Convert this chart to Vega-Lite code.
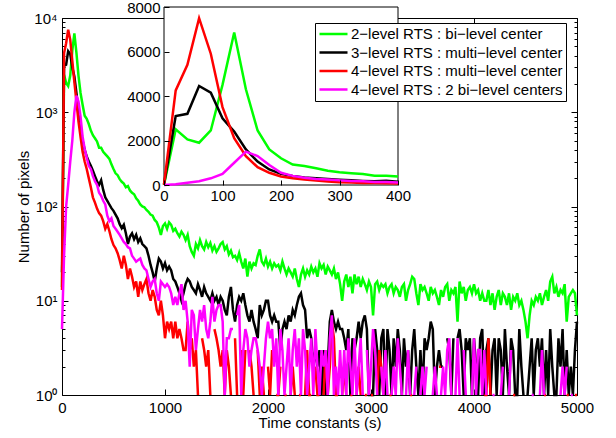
{
"$schema":"https://vega.github.io/schema/vega-lite/v6.json",
"width":515,"height":377,"autosize":"none",
"padding":{"left":62,"top":18,"right":39,"bottom":43},
"config":{"view":{"stroke":"black","strokeWidth":1},"font":"Liberation Sans",
"axis":{"labelFont":"Liberation Sans","labelFontSize":15,"labelColor":"black","titleFont":"Liberation Sans","titleFontSize":15,"titleFontWeight":"normal","titleColor":"black","tickColor":"black","grid":false,"domain":false,"labelOverlap":false,"labelFlush":false}},
"datasets":{"d":[
{"t":0,"g":14,"k":20,"r":13,"m":5},{"t":20,"g":2500,"k":3100,"r":4250,"m":30},{"t":40,"g":2050,"k":3200,"r":5400,"m":100},{"t":60,"g":1900,"k":4450,"r":7500,"m":170},{"t":80,"g":2450,"k":4150,"r":5900,"m":300},{"t":100,"g":4500,"k":3000,"r":3500,"m":500},{"t":120,"g":6850,"k":2400,"r":2100,"m":1000},{"t":140,"g":4300,"k":1600,"r":1300,"m":1500},{"t":160,"g":2450,"k":1050,"r":800,"m":1300},{"t":180,"g":1600,"k":700,"r":550,"m":900},
{"t":200,"g":1200,"k":500,"r":380,"m":550},{"t":220,"g":920,"k":400,"r":300,"m":410},{"t":240,"g":850,"k":340,"r":250,"m":330},{"t":260,"g":750,"k":300,"r":200,"m":270},{"t":280,"g":640,"k":270,"r":160,"m":250},{"t":300,"g":570,"k":240,"r":125,"m":210},{"t":320,"g":530,"k":210,"r":110,"m":185},{"t":340,"g":490,"k":185,"r":95,"m":170},{"t":360,"g":420,"k":170,"r":85,"m":140},{"t":380,"g":420,"k":190,"r":80,"m":130},
{"t":400,"g":380,"k":150,"r":70,"m":115},{"t":420,"g":360,"k":125,"r":58,"m":105},{"t":440,"g":340,"k":115,"r":65,"m":80},{"t":460,"g":320,"k":105,"r":55,"m":70},{"t":480,"g":280,"k":96,"r":45,"m":75},{"t":500,"g":250,"k":90,"r":39,"m":62},{"t":520,"g":225,"k":82,"r":36,"m":58},{"t":540,"g":215,"k":75,"r":32,"m":54},{"t":560,"g":195,"k":65,"r":27,"m":50},{"t":580,"g":183,"k":59,"r":22,"m":46},
{"t":600,"g":175,"k":64,"r":30,"m":42},{"t":620,"g":160,"k":52,"r":24,"m":40},{"t":640,"g":165,"k":40,"r":17,"m":37},{"t":660,"g":148,"k":48,"r":22,"m":36},{"t":680,"g":140,"k":52,"r":18,"m":30},{"t":700,"g":135,"k":45,"r":14,"m":28},{"t":720,"g":122,"k":50,"r":16,"m":26},{"t":740,"g":115,"k":42,"r":11,"m":27},{"t":760,"g":105,"k":46,"r":16,"m":28},{"t":780,"g":100,"k":40,"r":13,"m":24},
{"t":800,"g":98,"k":38,"r":15,"m":22},{"t":820,"g":92,"k":36,"r":17,"m":21},{"t":840,"g":88,"k":30,"r":12,"m":17},{"t":860,"g":82,"k":24,"r":10,"m":14},{"t":880,"g":80,"k":20,"r":13,"m":16},{"t":900,"g":72,"k":16,"r":11,"m":17},{"t":920,"g":68,"k":22,"r":8,"m":12},{"t":940,"g":60,"k":28,"r":7,"m":10},{"t":960,"g":50,"k":26,"r":10,"m":16},{"t":980,"g":62,"k":22,"r":7,"m":15},
{"t":1000,"g":66,"k":25,"r":4,"m":14},{"t":1020,"g":58,"k":21,"r":6,"m":15},{"t":1040,"g":68,"k":23,"r":5,"m":14},{"t":1060,"g":64,"k":21,"r":6,"m":12},{"t":1080,"g":55,"k":17,"r":4,"m":9},{"t":1100,"g":58,"k":16,"r":6,"m":11},{"t":1120,"g":52,"k":14,"r":4,"m":9},{"t":1140,"g":48,"k":12,"r":5,"m":12},{"t":1160,"g":54,"k":10,"r":4,"m":15},{"t":1180,"g":50,"k":12,"r":3,"m":8},
{"t":1200,"g":44,"k":15,"r":3,"m":10},{"t":1220,"g":50,"k":17,"r":6,"m":6},{"t":1240,"g":38,"k":16,"r":3,"m":2},{"t":1260,"g":33,"k":14,"r":4,"m":8},{"t":1280,"g":30,"k":13,"r":2,"m":7},{"t":1300,"g":40,"k":12,"r":3,"m":3},{"t":1320,"g":36,"k":15,"r":1,"m":5},{"t":1340,"g":44,"k":13,"r":null,"m":8},{"t":1360,"g":38,"k":11,"r":4,"m":6},{"t":1380,"g":35,"k":14,"r":3,"m":9},
{"t":1400,"g":42,"k":12,"r":2,"m":5},{"t":1420,"g":37,"k":11,"r":3,"m":4},{"t":1440,"g":41,"k":10,"r":1,"m":6},{"t":1460,"g":34,"k":12,"r":null,"m":11},{"t":1480,"g":38,"k":10,"r":5,"m":6},{"t":1500,"g":33,"k":11,"r":4,"m":8},{"t":1520,"g":36,"k":9,"r":3,"m":9},{"t":1540,"g":40,"k":11,"r":2,"m":9},{"t":1560,"g":42,"k":10,"r":3,"m":6},{"t":1580,"g":35,"k":8,"r":1,"m":1},
{"t":1600,"g":38,"k":7,"r":3,"m":4},{"t":1620,"g":31,"k":11,"r":2,"m":4},{"t":1640,"g":34,"k":14,"r":1,"m":5},{"t":1660,"g":29,"k":8,"r":null,"m":5},{"t":1680,"g":30,"k":6,"r":4,"m":null},{"t":1700,"g":27,"k":9,"r":1,"m":7},{"t":1720,"g":32,"k":11,"r":null,"m":9},{"t":1740,"g":26,"k":10,"r":3,"m":1},{"t":1760,"g":22,"k":12,"r":1,"m":3},{"t":1780,"g":28,"k":9,"r":3,"m":5},
{"t":1800,"g":18,"k":7,"r":null,"m":4},{"t":1820,"g":26,"k":6,"r":3,"m":2},{"t":1840,"g":22,"k":8,"r":2,"m":3},{"t":1860,"g":25,"k":6,"r":1,"m":4},{"t":1880,"g":24,"k":5,"r":null,"m":4},{"t":1900,"g":30,"k":4,"r":3,"m":3},{"t":1920,"g":35,"k":9,"r":1,"m":2},{"t":1940,"g":26,"k":7,"r":2,"m":1},{"t":1960,"g":24,"k":8,"r":1,"m":2},{"t":1980,"g":28,"k":10,"r":null,"m":4},
{"t":2000,"g":23,"k":10,"r":2,"m":6},{"t":2020,"g":26,"k":7,"r":1,"m":4},{"t":2040,"g":22,"k":6,"r":3,"m":5},{"t":2060,"g":25,"k":7,"r":null,"m":2},{"t":2080,"g":23,"k":6,"r":1,"m":4},{"t":2100,"g":24,"k":6,"r":1,"m":1},{"t":2120,"g":21,"k":3,"r":2,"m":5},{"t":2140,"g":26,"k":5,"r":null,"m":3},{"t":2160,"g":22,"k":6,"r":1,"m":1},{"t":2180,"g":19,"k":5,"r":1,"m":2},
{"t":2200,"g":22,"k":7,"r":null,"m":4},{"t":2220,"g":20,"k":6,"r":1,"m":1},{"t":2240,"g":18,"k":8,"r":2,"m":3},{"t":2260,"g":22,"k":7,"r":1,"m":5},{"t":2280,"g":17,"k":9,"r":null,"m":2},{"t":2300,"g":14,"k":11,"r":1,"m":4},{"t":2320,"g":19,"k":12,"r":1,"m":1},{"t":2340,"g":22,"k":9,"r":null,"m":5},{"t":2360,"g":18,"k":8,"r":1,"m":3},{"t":2380,"g":21,"k":4,"r":3,"m":1},
{"t":2400,"g":19,"k":5,"r":1,"m":2},{"t":2420,"g":23,"k":4,"r":1,"m":4},{"t":2440,"g":20,"k":2,"r":null,"m":1},{"t":2460,"g":22,"k":3,"r":2,"m":5},{"t":2480,"g":18,"k":2,"r":1,"m":2},{"t":2500,"g":25,"k":3,"r":1,"m":1},{"t":2520,"g":22,"k":1,"r":null,"m":3},{"t":2540,"g":24,"k":3,"r":1,"m":2},{"t":2560,"g":19,"k":1,"r":3,"m":3},{"t":2580,"g":23,"k":2,"r":1,"m":1},
{"t":2600,"g":21,"k":6,"r":2,"m":4},{"t":2620,"g":19,"k":8,"r":6,"m":7},{"t":2640,"g":22,"k":6,"r":4,"m":1},{"t":2660,"g":17,"k":5,"r":1,"m":2},{"t":2680,"g":20,"k":6,"r":1,"m":1},{"t":2700,"g":15,"k":5,"r":null,"m":3},{"t":2720,"g":10,"k":5,"r":1,"m":1},{"t":2740,"g":16,"k":4,"r":2,"m":3},{"t":2760,"g":19,"k":3,"r":1,"m":1},{"t":2780,"g":14,"k":5,"r":null,"m":4},
{"t":2800,"g":18,"k":1,"r":1,"m":2},{"t":2820,"g":12,"k":4,"r":1,"m":1},{"t":2840,"g":19,"k":3,"r":null,"m":4},{"t":2860,"g":15,"k":4,"r":1,"m":1},{"t":2880,"g":18,"k":6,"r":2,"m":2},{"t":2900,"g":14,"k":4,"r":1,"m":4},{"t":2920,"g":17,"k":6,"r":null,"m":1},{"t":2940,"g":15,"k":7,"r":1,"m":null},{"t":2960,"g":13,"k":5,"r":1,"m":3},{"t":2980,"g":16,"k":1,"r":null,"m":1},
{"t":3000,"g":14,"k":1,"r":1,"m":2},{"t":3020,"g":7,"k":1,"r":1,"m":5},{"t":3040,"g":15,"k":5,"r":null,"m":3},{"t":3060,"g":16,"k":3,"r":1,"m":1},{"t":3080,"g":13,"k":1,"r":3,"m":null},{"t":3100,"g":15,"k":4,"r":2,"m":2},{"t":3120,"g":14,"k":5,"r":1,"m":1},{"t":3140,"g":15,"k":1,"r":null,"m":3},{"t":3160,"g":12,"k":5,"r":null,"m":1},{"t":3180,"g":14,"k":3,"r":1,"m":null},
{"t":3200,"g":15,"k":1,"r":1,"m":1},{"t":3220,"g":12,"k":4,"r":null,"m":2},{"t":3240,"g":14,"k":2,"r":null,"m":1},{"t":3260,"g":13,"k":5,"r":1,"m":4},{"t":3280,"g":11,"k":3,"r":null,"m":2},{"t":3300,"g":14,"k":1,"r":null,"m":1},{"t":3320,"g":15,"k":4,"r":2,"m":null},{"t":3340,"g":10,"k":2,"r":null,"m":1},{"t":3360,"g":13,"k":3,"r":null,"m":3},{"t":3380,"g":15,"k":1,"r":1,"m":1},
{"t":3400,"g":18,"k":3,"r":1,"m":null},{"t":3420,"g":17,"k":5,"r":null,"m":1},{"t":3440,"g":12,"k":2,"r":null,"m":2},{"t":3460,"g":9,"k":1,"r":1,"m":null},{"t":3480,"g":15,"k":3,"r":null,"m":1},{"t":3500,"g":13,"k":1,"r":null,"m":2},{"t":3520,"g":14,"k":4,"r":1,"m":1},{"t":3540,"g":12,"k":3,"r":null,"m":2},{"t":3560,"g":10,"k":4,"r":null,"m":null},{"t":3580,"g":14,"k":6,"r":null,"m":null},
{"t":3600,"g":12,"k":5,"r":1,"m":1},{"t":3620,"g":13,"k":1,"r":null,"m":2},{"t":3640,"g":11,"k":2,"r":null,"m":1},{"t":3660,"g":9,"k":3,"r":2,"m":null},{"t":3680,"g":13,"k":2,"r":2,"m":1},{"t":3700,"g":11,"k":2,"r":null,"m":2},{"t":3720,"g":14,"k":null,"r":null,"m":1},{"t":3740,"g":15,"k":4,"r":1,"m":3},{"t":3760,"g":10,"k":3,"r":null,"m":4},{"t":3780,"g":13,"k":1,"r":null,"m":1},
{"t":3800,"g":12,"k":4,"r":null,"m":null},{"t":3820,"g":14,"k":null,"r":1,"m":1},{"t":3840,"g":6,"k":4,"r":null,"m":4},{"t":3860,"g":16,"k":5,"r":null,"m":1},{"t":3880,"g":12,"k":3,"r":1,"m":null},{"t":3900,"g":14,"k":1,"r":null,"m":3},{"t":3920,"g":10,"k":4,"r":null,"m":1},{"t":3940,"g":13,"k":3,"r":null,"m":null},{"t":3960,"g":14,"k":4,"r":1,"m":null},{"t":3980,"g":12,"k":1,"r":null,"m":1},
{"t":4000,"g":15,"k":4,"r":null,"m":4},{"t":4020,"g":12,"k":2,"r":1,"m":1},{"t":4040,"g":13,"k":1,"r":null,"m":3},{"t":4060,"g":10,"k":4,"r":null,"m":3},{"t":4080,"g":12,"k":5,"r":null,"m":1},{"t":4100,"g":10,"k":1,"r":1,"m":3},{"t":4120,"g":10,"k":3,"r":1,"m":1},{"t":4140,"g":13,"k":4,"r":4,"m":null},{"t":4160,"g":9,"k":1,"r":1,"m":null},{"t":4180,"g":12,"k":3,"r":null,"m":1},
{"t":4200,"g":8,"k":4,"r":null,"m":1},{"t":4220,"g":11,"k":1,"r":1,"m":null},{"t":4240,"g":13,"k":4,"r":null,"m":null},{"t":4260,"g":9,"k":3,"r":null,"m":1},{"t":4280,"g":12,"k":1,"r":null,"m":2},{"t":4300,"g":11,"k":5,"r":1,"m":null},{"t":4320,"g":9,"k":2,"r":null,"m":null},{"t":4340,"g":12,"k":1,"r":null,"m":1},{"t":4360,"g":8,"k":4,"r":null,"m":3},{"t":4380,"g":11,"k":3,"r":1,"m":null},
{"t":4400,"g":10,"k":1,"r":1,"m":null},{"t":4420,"g":12,"k":1,"r":null,"m":1},{"t":4440,"g":9,"k":5,"r":null,"m":null},{"t":4460,"g":10,"k":2,"r":null,"m":null},{"t":4480,"g":8,"k":1,"r":null,"m":1},{"t":4500,"g":6,"k":null,"r":1,"m":null},{"t":4520,"g":4,"k":1,"r":null,"m":2},{"t":4540,"g":7,"k":2,"r":2,"m":null},{"t":4560,"g":10,"k":4,"r":null,"m":1},{"t":4580,"g":9,"k":1,"r":null,"m":1},
{"t":4600,"g":11,"k":3,"r":1,"m":null},{"t":4620,"g":10,"k":4,"r":null,"m":null},{"t":4640,"g":12,"k":2,"r":null,"m":1},{"t":4660,"g":9,"k":4,"r":null,"m":3},{"t":4680,"g":11,"k":1,"r":1,"m":1},{"t":4700,"g":13,"k":3,"r":1,"m":null},{"t":4720,"g":10,"k":1,"r":null,"m":null},{"t":4740,"g":16,"k":5,"r":null,"m":1},{"t":4760,"g":18,"k":2,"r":null,"m":null},{"t":4780,"g":12,"k":1,"r":1,"m":null},
{"t":4800,"g":14,"k":1,"r":null,"m":1},{"t":4820,"g":11,"k":4,"r":null,"m":null},{"t":4840,"g":13,"k":2,"r":1,"m":1},{"t":4860,"g":12,"k":5,"r":null,"m":2},{"t":4880,"g":15,"k":1,"r":null,"m":1},{"t":4900,"g":6,"k":3,"r":1,"m":2},{"t":4920,"g":11,"k":1,"r":1,"m":null},{"t":4940,"g":12,"k":2,"r":null,"m":1},{"t":4960,"g":13,"k":1,"r":null,"m":1},{"t":4980,"g":12,"k":3,"r":1,"m":null},
{"t":5000,"g":7,"k":6,"r":1,"m":null}
]},
"data":{"name":"d"},
"layer":[
{"layer":[
{"transform":[{"fold":["g","k","r","m"],"as":["s","v"]}],
"mark":{"type":"line","strokeWidth":2.5,"invalid":"break-paths-show-domains"},
"encoding":{
"x":{"field":"t","type":"quantitative","scale":{"domain":[0,5000],"nice":false,"zero":false},
"axis":{"values":[0,1000,2000,3000,4000,5000],"format":"d","tickSize":-6,"labelPadding":11,"title":"Time constants (s)","titlePadding":0}},
"y":{"field":"v","type":"quantitative","scale":{"type":"log","domain":[1,10000],"nice":false},
"axis":{"values":[1,2,3,4,5,6,7,8,9,10,20,30,40,50,60,70,80,90,100,200,300,400,500,600,700,800,900,1000,2000,3000,4000,5000,6000,7000,8000,9000,10000],
"labelExpr":"datum.value==1?'10⁰':datum.value==10?'10¹':datum.value==100?'10²':datum.value==1000?'10³':datum.value==10000?'10⁴':''",
"tickSize":{"condition":{"test":"indexof([1,10,100,1000,10000],datum.value)>=0","value":-6},"value":-3},
"labelPadding":11,"title":"Number of pixels","titlePadding":2}},
"color":{"field":"s","type":"nominal","scale":{"domain":["g","k","r","m"],"range":["#00ff00","#000000","#ff0000","#ff00ff"]},
"legend":{"orient":"none","legendX":253,"legendY":5,"title":null,"strokeColor":"black","fillColor":"white","padding":3,
"symbolType":"stroke","symbolSize":784,"symbolStrokeWidth":2.5,"clipHeight":16,"rowPadding":2.5,"labelOffset":2,
"labelFont":"Liberation Sans","labelFontSize":15,"labelColor":"black","labelLimit":0,
"labelExpr":"datum.value=='g'?'2−level RTS : bi−level center':datum.value=='k'?'3−level RTS : multi−level center':datum.value=='r'?'4−level RTS : multi−level center':'4−level RTS : 2 bi−level centers'"}}
}},
{"transform":[{"fold":["g","k","r","m"],"as":["s","v"]}],
"mark":{"type":"line","opacity":0,"invalid":"break-paths-show-domains"},
"encoding":{
"x":{"field":"t","type":"quantitative","axis":{"orient":"top","values":[0,1000,2000,3000,4000,5000],"tickSize":-6,"labels":false,"title":null}},
"y":{"field":"v","type":"quantitative","axis":{"orient":"right","values":[1,2,3,4,5,6,7,8,9,10,20,30,40,50,60,70,80,90,100,200,300,400,500,600,700,800,900,1000,2000,3000,4000,5000,6000,7000,8000,9000,10000],
"tickSize":{"condition":{"test":"indexof([1,10,100,1000,10000],datum.value)>=0","value":-6},"value":-3},"labels":false,"title":null}},
"detail":{"field":"s","type":"nominal"}}}
],
"resolve":{"axis":{"x":"independent","y":"independent"}}},
{"layer":[
{"data":{"values":[{}]},"mark":{"type":"rect","fill":"white","stroke":"black","strokeWidth":1},
"encoding":{
"x":{"datum":0,"type":"quantitative","scale":{"domain":[0,400],"range":[102,336],"nice":false,"zero":false},
"axis":{"orient":"bottom","offset":-210,"values":[0,100,200,300,400],"tickSize":-5,"labelPadding":8,"title":null,"zindex":1}},
"x2":{"datum":400},
"y":{"datum":0,"type":"quantitative","scale":{"domain":[0,8000],"range":[167,-11],"nice":false},
"axis":{"orient":"left","offset":-102,"values":[0,2000,4000,6000,8000],"format":"d","tickSize":-5,"labelPadding":9,"title":null,"zindex":1}},
"y2":{"datum":8000}}},
{"transform":[{"filter":"datum.t <= 400"},{"fold":["g","k","r","m"],"as":["s","v"]}],
"mark":{"type":"line","strokeWidth":2.5},
"encoding":{"x":{"field":"t","type":"quantitative"},"y":{"field":"v","type":"quantitative"},
"color":{"field":"s","type":"nominal","scale":{"domain":["g","k","r","m"],"range":["#00ff00","#000000","#ff0000","#ff00ff"]}}}}
]}
],
"resolve":{"scale":{"x":"independent","y":"independent"}}
}
